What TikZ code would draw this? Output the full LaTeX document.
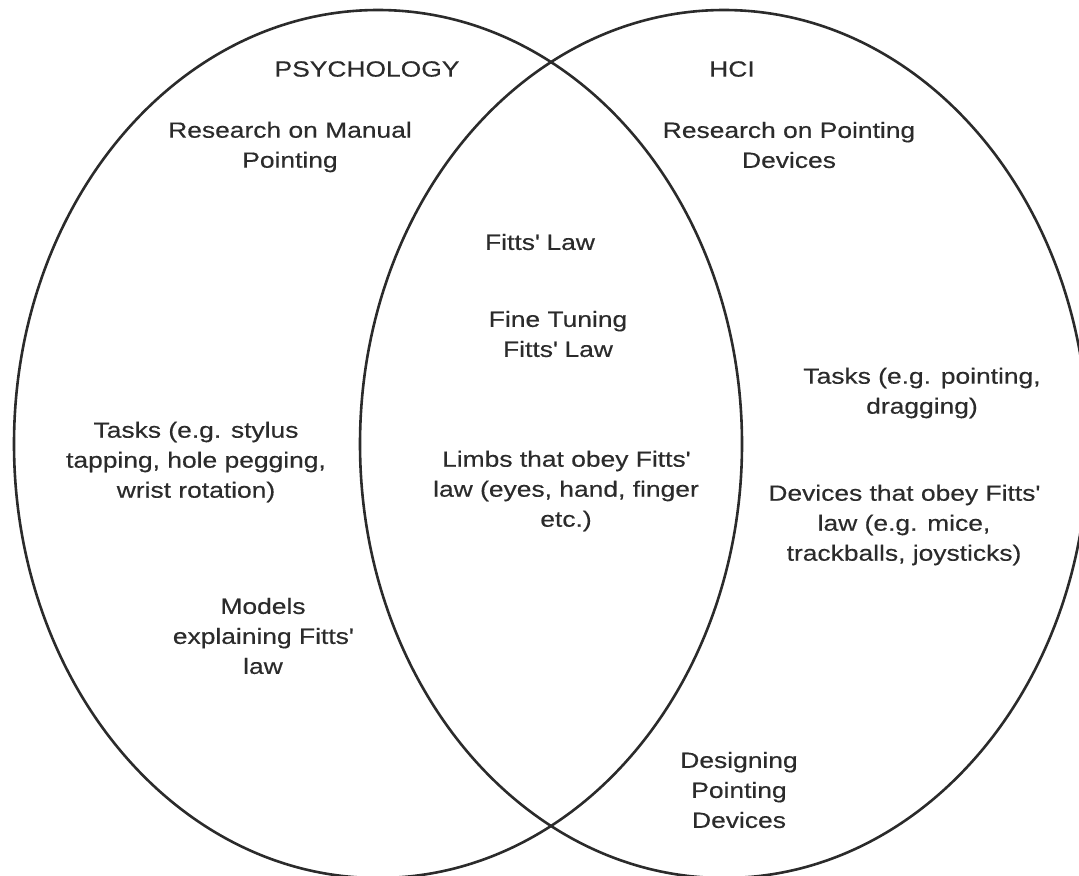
\documentclass[tikz,border=0pt]{standalone}
\usepackage{fontspec}
\setmainfont{Liberation Sans}[FakeStretch=1.2, FakeBold=0.4]
\usepackage[svgnames]{xcolor}
\definecolor{inkgray}{HTML}{2B2B2B}
\tikzset{ % venn options
  region/.style={draw=inkgray, line width=1.3pt},
  topic/.style={align=center, inner sep=0pt, text=inkgray,
    font=\fontsize{11}{15}\selectfont}
}

\begin{document}
\begin{tikzpicture}[x=0.5pt, y=-0.5pt]
\useasboundingbox (0,0) rectangle (1079,875);
\clip (0,0) rectangle (1079,875);
\draw[region] (378,444) ellipse [x radius=364, y radius=434];
\draw[region] (724,444) ellipse [x radius=364, y radius=434];
\node[topic] (psych) at (367,69) {PSYCHOLOGY};
\node[topic] (hci) at (732,69) {HCI};
\node[topic] (manual) at (290,147) {Research on Manual\\Pointing};
\node[topic] (devices) at (789,145) {Research on Pointing\\Devices};
\node[topic] (fitts) at (540,242) {Fitts\textquotesingle\ Law};
\node[topic] (tuning) at (558,334) {Fine Tuning\\Fitts\textquotesingle\ Law};
\node[topic] (limbs) at (566,491) {Limbs that obey Fitts\textquotesingle\\law (eyes, hand, finger\\etc.)};
\node[topic] (psychtasks) at (196,462) {Tasks (e.g. stylus\\tapping, hole pegging,\\wrist rotation)};
\node[topic] (models) at (263,636) {Models\\explaining Fitts\textquotesingle\\law};
\node[topic] (hcitasks) at (922,393) {Tasks (e.g. pointing,\\dragging)};
\node[topic] (obey) at (904,525) {Devices that obey Fitts\textquotesingle\\law (e.g. mice,\\trackballs, joysticks)};
\node[topic] (design) at (739,790) {Designing\\Pointing\\Devices};
\end{tikzpicture}
\end{document}
